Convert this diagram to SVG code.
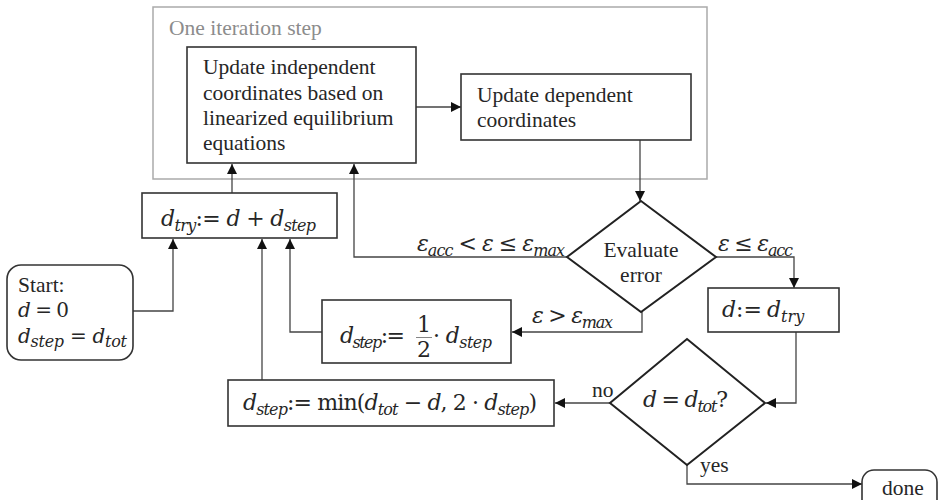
<svg xmlns="http://www.w3.org/2000/svg" width="938" height="500" viewBox="0 0 938 500">
<style>
.t{font-family:"Liberation Serif",serif;font-size:21.5px;fill:#262626}
.g{font-family:"Liberation Serif",serif;font-size:21.5px;fill:#8c8c8c}
.m{font-family:"DejaVu Serif",serif;font-size:22px;fill:#262626}
.ms{font-family:"DejaVu Serif",serif;font-size:20px;fill:#262626}
.i{font-style:italic}
.s{font-size:16px}
.box{fill:#fff;stroke:#333;stroke-width:1.6}
.dia{fill:#fff;stroke:#222;stroke-width:2}
.edge{fill:none;stroke:#444;stroke-width:1.3}
</style>
<defs>
<marker id="ah" markerWidth="10" markerHeight="10" refX="10" refY="5" orient="auto" markerUnits="userSpaceOnUse">
<path d="M0,0 L10,5 L0,10 Z" fill="#111"/>
</marker>
</defs>
<rect width="938" height="500" fill="#fff"/>

<g id="iteration-step">
<rect x="153" y="7" width="554" height="172" fill="none" stroke="#aaa" stroke-width="1.5"/>
<text class="g" x="169" y="35">One iteration step</text>
</g>

<g id="edges">
<path class="edge" d="M416,107 H461" marker-end="url(#ah)"/>
<path class="edge" d="M640,140 V201" marker-end="url(#ah)"/>
<path class="edge" d="M567,257 H354 V164" marker-end="url(#ah)"/>
<path class="edge" d="M716,257 H794 V288" marker-end="url(#ah)"/>
<path class="edge" d="M642,312 V332 H512" marker-end="url(#ah)"/>
<path class="edge" d="M796,332 V403 H766" marker-end="url(#ah)"/>
<path class="edge" d="M610,403 H555" marker-end="url(#ah)"/>
<path class="edge" d="M687,465 V484 H862" marker-end="url(#ah)"/>
<path class="edge" d="M133,311 H173 V239" marker-end="url(#ah)"/>
<path class="edge" d="M322,332 H290 V239" marker-end="url(#ah)"/>
<path class="edge" d="M262,380 V239" marker-end="url(#ah)"/>
<path class="edge" d="M232,193 V164" marker-end="url(#ah)"/>
<text class="m" x="417" y="251" textLength="148" lengthAdjust="spacing"><tspan class="i">ε</tspan><tspan class="i s" dy="5">acc</tspan><tspan dy="-5"> &lt; </tspan><tspan class="i">ε</tspan><tspan> ≤ </tspan><tspan class="i">ε</tspan><tspan class="i s" dy="5">max</tspan></text>
<text class="m" x="718" y="251" textLength="75" lengthAdjust="spacing"><tspan class="i">ε</tspan><tspan> ≤ </tspan><tspan class="i">ε</tspan><tspan class="i s" dy="5">acc</tspan></text>
<text class="m" x="532" y="323" textLength="81" lengthAdjust="spacing"><tspan class="i">ε</tspan><tspan> &gt; </tspan><tspan class="i">ε</tspan><tspan class="i s" dy="5">max</tspan></text>
<text class="t" x="592" y="397">no</text>
<text class="t" x="700" y="472">yes</text>
</g>

<g id="update-independent">
<rect class="box" x="187" y="47" width="229" height="116"/>
<text class="t" x="203" y="74">Update independent</text>
<text class="t" x="203" y="100">coordinates based on</text>
<text class="t" x="203" y="125">linearized equilibrium</text>
<text class="t" x="203" y="150">equations</text>
</g>

<g id="update-dependent">
<rect class="box" x="461" y="74" width="230" height="66"/>
<text class="t" x="477" y="102">Update dependent</text>
<text class="t" x="477" y="127">coordinates</text>
</g>

<g id="evaluate-error">
<polygon class="dia" points="641,201 716,257 641,312 567,257"/>
<text class="t" x="641" y="257" text-anchor="middle">Evaluate</text>
<text class="t" x="641" y="282" text-anchor="middle">error</text>
</g>

<g id="d-assign">
<rect class="box" x="708" y="288" width="131" height="44"/>
<text class="m" x="722" y="317"><tspan class="i">d</tspan><tspan x="736">:=</tspan><tspan class="i" x="767">d</tspan><tspan class="i s" dy="5">try</tspan></text>
</g>

<g id="d-equals-dtot">
<polygon class="dia" points="687,339 765,403 687,465 610,403"/>
<text class="m" x="643" y="407" textLength="85" lengthAdjust="spacing"><tspan class="i">d</tspan><tspan> = </tspan><tspan class="i">d</tspan><tspan class="i s" dy="5">tot</tspan><tspan dy="-5">?</tspan></text>
</g>

<g id="d-try">
<rect class="box" x="142" y="193" width="195" height="45"/>
<text class="m" x="161" y="226" textLength="155" lengthAdjust="spacing"><tspan class="i">d</tspan><tspan class="i s" dy="5">try</tspan><tspan dy="-5">:= </tspan><tspan class="i">d</tspan><tspan> + </tspan><tspan class="i">d</tspan><tspan class="i s" dy="5">step</tspan></text>
</g>

<g id="start">
<rect class="box" x="7" y="265" width="126" height="95" rx="14"/>
<text class="t" x="18" y="292">Start:</text>
<text class="ms" x="18" y="317" textLength="51" lengthAdjust="spacing"><tspan class="i">d</tspan><tspan> = 0</tspan></text>
<text class="ms" x="18" y="343" textLength="109" lengthAdjust="spacing"><tspan class="i">d</tspan><tspan class="i s" dy="4">step</tspan><tspan dy="-4"> = </tspan><tspan class="i">d</tspan><tspan class="i s" dy="4">tot</tspan></text>
</g>

<g id="halve-step">
<rect class="box" x="322" y="300" width="189" height="63"/>
<text class="m" x="340" y="343" textLength="65" lengthAdjust="spacing"><tspan class="i">d</tspan><tspan class="i s" dy="5">step</tspan><tspan dy="-5">:=</tspan></text>
<text class="m" x="424" y="332" text-anchor="middle">1</text>
<line x1="416" y1="337.5" x2="432" y2="337.5" stroke="#666" stroke-width="0.8"/>
<text class="m" x="424" y="357" text-anchor="middle">2</text>
<text class="m" x="433" y="343" textLength="59" lengthAdjust="spacing"><tspan>· </tspan><tspan class="i">d</tspan><tspan class="i s" dy="5">step</tspan></text>
</g>

<g id="grow-step">
<rect class="box" x="228" y="380" width="326" height="46"/>
<text class="m" x="243" y="410" textLength="294" lengthAdjust="spacing"><tspan class="i">d</tspan><tspan class="i s" dy="5">step</tspan><tspan dy="-5">:= min(</tspan><tspan class="i">d</tspan><tspan class="i s" dy="5">tot</tspan><tspan dy="-5"> − </tspan><tspan class="i">d</tspan><tspan>, 2 · </tspan><tspan class="i">d</tspan><tspan class="i s" dy="5">step</tspan><tspan dy="-5">)</tspan></text>
</g>

<g id="done">
<rect class="box" x="862" y="470" width="75" height="50" rx="12"/>
<text class="t" x="882" y="495">done</text>
</g>
</svg>
